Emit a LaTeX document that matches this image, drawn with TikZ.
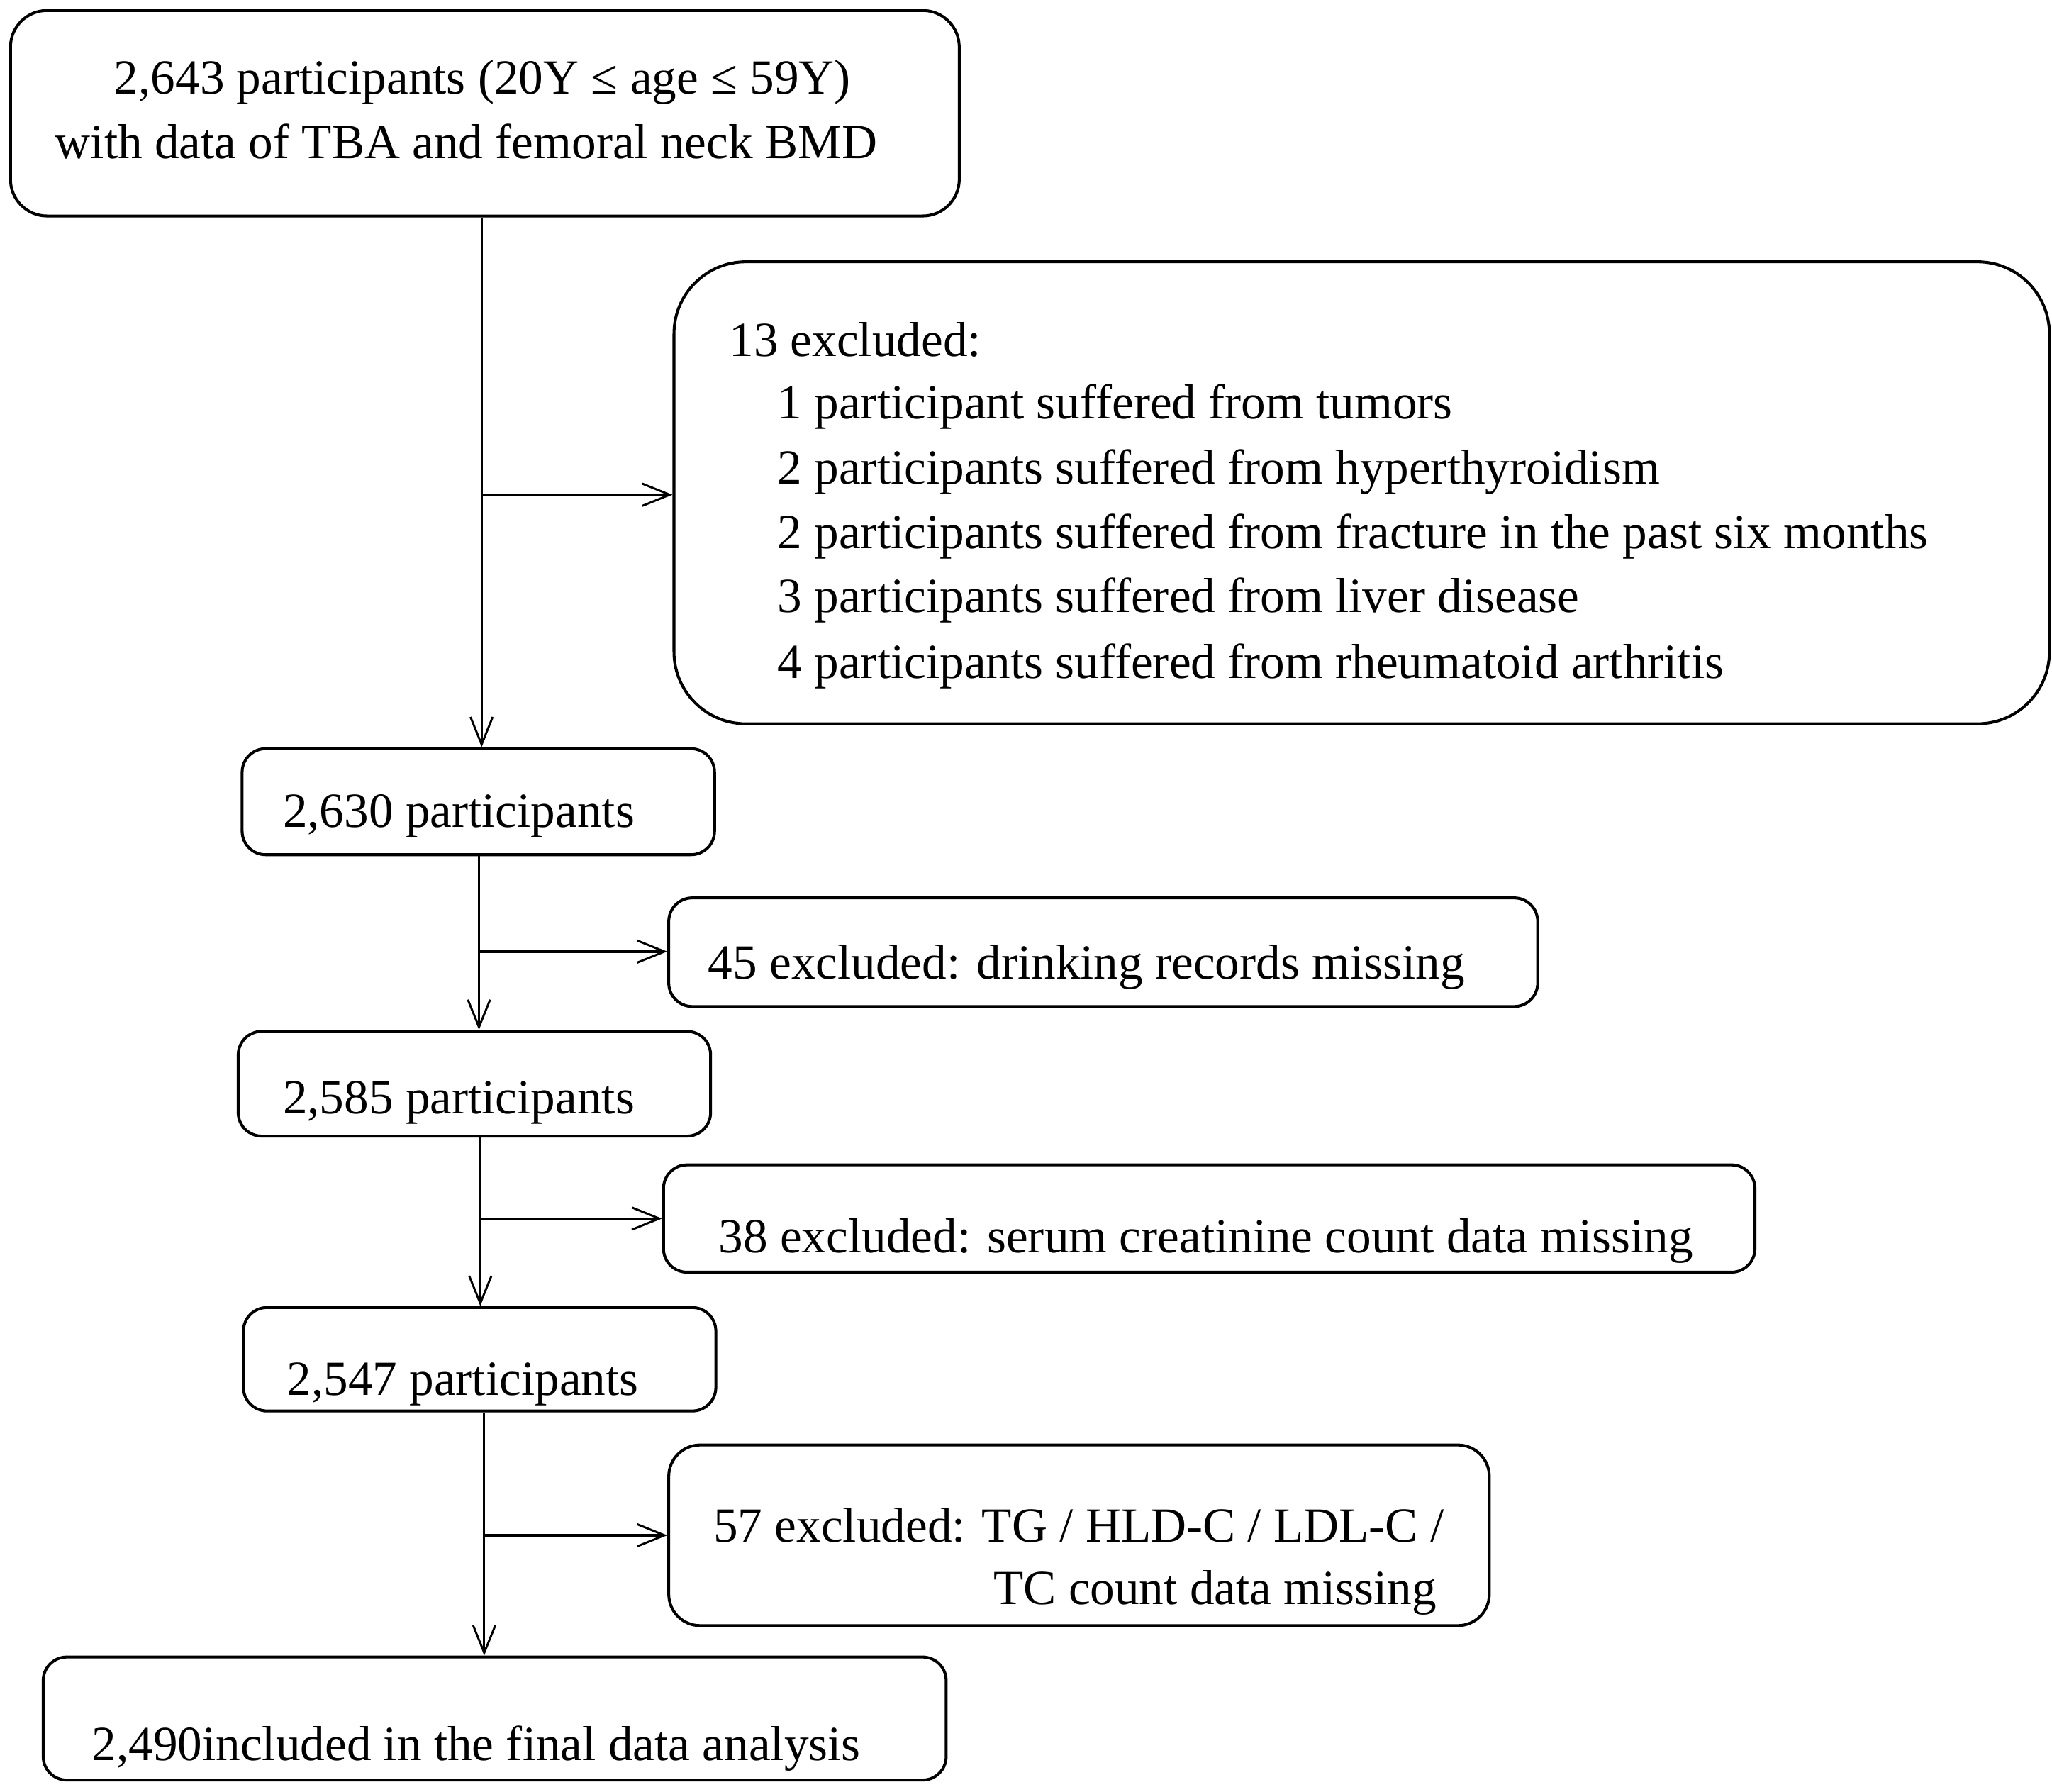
\documentclass[tikz,border=0pt]{standalone}
\usepackage{fontspec}
\setmainfont{Liberation Serif}
\usetikzlibrary{arrows.meta}
\begin{document}
\begin{tikzpicture}[x=1pt,y=-1pt,
  box/.style={draw, line width=2.2pt, rounded corners=18pt, inner sep=0pt},
  txt/.style={font=\fontsize{37.5}{45}\selectfont, inner sep=0pt, anchor=base west},
  arr/.style={line width=1.6pt, -{Straight Barb[length=21pt,width=17pt]}},
  arrb/.style={line width=2pt, -{Straight Barb[length=21pt,width=17pt,line width=1.6pt]}}
]
\useasboundingbox[fill=white] (0,0) rectangle (1568,1369);

% boxes
\node[box, rounded corners=28pt, minimum width=725pt, minimum height=157pt] (b1) at (370.5,86.5) {};
\node[box, rounded corners=55pt, minimum width=1051pt, minimum height=353pt] (b2) at (1040.5,376.5) {};
\node[box, minimum width=361pt, minimum height=81pt] (b3) at (365.5,612.5) {};
\node[box, minimum width=664pt, minimum height=83pt] (b4) at (843,727.5) {};
\node[box, minimum width=361pt, minimum height=80pt] (b5) at (362.5,828) {};
\node[box, minimum width=834pt, minimum height=82pt] (b6) at (924,931) {};
\node[box, minimum width=361pt, minimum height=79pt] (b7) at (366.5,1038.5) {};
\node[box, rounded corners=24pt, minimum width=627pt, minimum height=138pt] (b8) at (824.5,1173) {};
\node[box, minimum width=690pt, minimum height=94pt] (b9) at (378,1313) {};

% texts
\node[txt] (t1a) at (87,72) {2,643 participants (20Y ≤ age ≤ 59Y)};
\node[txt] (t1b) at (42,121) {with data of TBA and femoral neck BMD};

\node[txt] (t2a) at (557,272) {13 excluded:};
\node[txt] (t2b) at (594,320) {1 participant suffered from tumors};
\node[txt] (t2c) at (594,370) {2 participants suffered from hyperthyroidism};
\node[txt] (t2d) at (594,419) {2 participants suffered from fracture in the past six months};
\node[txt] (t2e) at (594,468) {3 participants suffered from liver disease};
\node[txt] (t2f) at (594,518) {4 participants suffered from rheumatoid arthritis};

\node[txt] (t3) at (216,632) {2,630 participants};
\node[txt] (t4) at (541,748) {45 excluded: drinking records missing};
\node[txt] (t5) at (216,851) {2,585 participants};
\node[txt] (t6) at (549,957) {38 excluded: serum creatinine count data missing};
\node[txt] (t7) at (219,1066) {2,547 participants};
\node[txt] (t8a) at (545,1178) {57 excluded: TG / HLD-C / LDL-C /};
\node[txt] (t8b) at (759,1226) {TC count data missing};
\node[txt] (t9) at (70,1345) {2,490included in the final data analysis};

% junctions
\coordinate (j1) at (368,378);
\coordinate (j2) at (366,727);
\coordinate (j3) at (367,931);
\coordinate (j4) at (370,1173);

% connectors
\draw[arr] (b1.south -| j1) -- (b3.north -| j1);
\draw[arrb] (j1) -- (b2.west |- j1);
\draw[arr] (b3.south -| j2) -- (b5.north -| j2);
\draw[arrb] (j2) -- (b4.west |- j2);
\draw[arr] (b5.south -| j3) -- (b7.north -| j3);
\draw[arrb] (j3) -- (b6.west |- j3);
\draw[arr] (b7.south -| j4) -- (b9.north -| j4);
\draw[arrb] (j4) -- (b8.west |- j4);
\end{tikzpicture}
\end{document}
